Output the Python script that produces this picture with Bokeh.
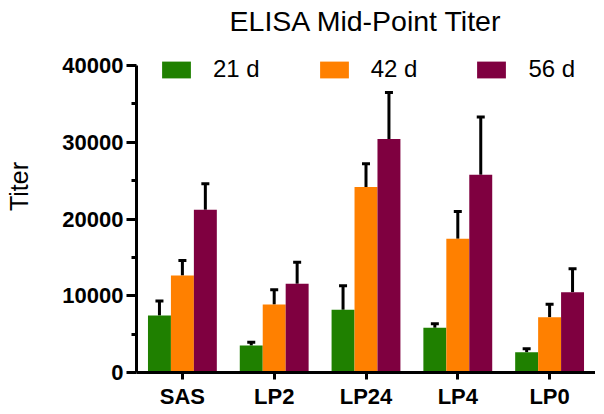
from bokeh.plotting import figure
from bokeh.models import (ColumnDataSource, Range1d, FactorRange, Whisker, TeeHead,
                          FixedTicker, Legend, LegendItem, Label)
from bokeh.transform import dodge
from bokeh.embed import file_html
from bokeh.resources import INLINE

# ---- data ----
groups = ["SAS", "LP2", "LP24", "LP4", "LP0"]
series = ["21 d", "42 d", "56 d"]
mean_21 = [7430, 3520, 8170, 5830, 2650]
mean_42 = [12650, 8870, 24160, 17430, 7210]
mean_56 = [21210, 11560, 30420, 25780, 10470]
sem_21 = [1870, 430, 3130, 520, 440]
sem_42 = [1950, 1910, 3050, 3560, 1690]
sem_56 = [3390, 2820, 6050, 7510, 3050]
y_major = [0, 10000, 20000, 30000, 40000]
y_minor = [5000, 15000, 25000, 35000]
title_text = "ELISA Mid-Point Titer"
colors = ["#1f8000", "#ff8000", "#7f0040"]

FONT = "Liberation Sans"

# layout (pixels)
W, H = 595, 411
LEFT, BOTTOM = 136, 39
FRAME_H = H - BOTTOM          # frame runs from the top of the canvas
AXIS_TOP_PX = 65              # canvas y of the 40000 tick
y_end = y_major[-1] * FRAME_H / (FRAME_H - AXIS_TOP_PX)

src = ColumnDataSource(dict(
    grp=groups,
    m21=mean_21, m42=mean_42, m56=mean_56,
    u21=[m + s for m, s in zip(mean_21, sem_21)],
    u42=[m + s for m, s in zip(mean_42, sem_42)],
    u56=[m + s for m, s in zip(mean_56, sem_56)],
))

p = figure(x_range=FactorRange(*groups), y_range=Range1d(0, y_end),
           width=W, height=H, output_backend="svg", toolbar_location=None,
           min_border_left=LEFT, min_border_right=0, min_border_top=0,
           min_border_bottom=BOTTOM)
p.x_range.range_padding = 0

p.xgrid.visible = False
p.ygrid.visible = False
p.outline_line_color = None
p.background_fill_color = "white"
p.border_fill_color = "white"

offsets = [-0.25, 0.0, 0.25]
mcols = ["m21", "m42", "m56"]
ucols = ["u21", "u42", "u56"]
items = []
for off, mc, uc, col, name in zip(offsets, mcols, ucols, colors, series):
    r = p.vbar(x=dodge("grp", off, range=p.x_range), top=mc, bottom=0, width=0.25,
               source=src, fill_color=col, line_color=None)
    items.append(LegendItem(label=name, renderers=[r]))
    w = Whisker(base=dodge("grp", off, range=p.x_range), lower=mc, upper=uc,
                source=src, line_color="black", line_width=3,
                upper_head=TeeHead(size=8, line_width=3, line_color="black"),
                lower_head=None)
    p.add_layout(w)

legend = Legend(items=items, location=(22, FRAME_H - 83), orientation="horizontal",
                glyph_width=36, glyph_height=21, label_standoff=19, spacing=56,
                padding=0, margin=0, border_line_color=None,
                background_fill_alpha=0, label_text_font=FONT,
                label_text_font_size="24px", label_text_color="black")
p.add_layout(legend)

title = Label(x=229.5, y=FRAME_H - 20, x_units="screen", y_units="screen",
              text=title_text, text_align="center", text_baseline="alphabetic",
              text_font=FONT, text_font_size="28.5px", text_color="black")
p.add_layout(title)

# y axis
ya = p.yaxis[0]
ya.bounds = (y_major[0], y_major[-1])
ya.ticker = FixedTicker(ticks=y_major, minor_ticks=y_minor)
ya.axis_label = "Titer"
ya.axis_label_text_font = FONT
ya.axis_label_text_font_size = "25px"
ya.axis_label_text_font_style = "normal"
ya.axis_label_text_color = "black"
ya.axis_label_standoff = 26
ya.major_label_text_font = FONT
ya.major_label_text_font_size = "22px"
ya.major_label_text_font_style = "bold"
ya.major_label_text_color = "black"
ya.major_label_standoff = 3
ya.axis_line_width = 3
ya.major_tick_line_width = 3
ya.minor_tick_line_width = 3
ya.major_tick_out = 10
ya.major_tick_in = 0
ya.minor_tick_out = 5
ya.minor_tick_in = 0
ya.axis_line_color = "black"
ya.major_tick_line_color = "black"
ya.minor_tick_line_color = "black"

# x axis
xa = p.xaxis[0]
xa.major_label_text_font = FONT
xa.major_label_text_font_size = "22px"
xa.major_label_text_font_style = "bold"
xa.major_label_text_color = "black"
xa.major_label_standoff = 4
xa.axis_line_width = 3
xa.major_tick_line_width = 3
xa.major_tick_out = 7
xa.major_tick_in = 0
xa.minor_tick_line_color = None
xa.minor_tick_out = 0
xa.axis_line_color = "black"
xa.major_tick_line_color = "black"

open("out.html", "w").write(file_html(p, INLINE))
